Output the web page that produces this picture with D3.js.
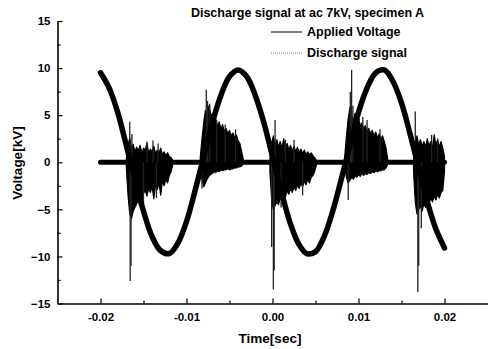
<!DOCTYPE html>
<html><head><meta charset="utf-8">
<script src="https://cdn.jsdelivr.net/npm/d3@7/dist/d3.min.js"></script>
<style>body{margin:0;background:#fff}svg{display:block;font-family:"Liberation Sans",Arial,sans-serif;font-weight:bold}</style>
</head><body>
<script>
// ---- data (time in ms, voltage in kV) ----
const xTickVals = [-20, -10, 0, 10, 20];
const xTickLabels = ["-0.02", "-0.01", "0.00", "0.01", "0.02"];
const yTickVals = [-15, -10, -5, 0, 5, 10, 15];
const xMinorVals = [-15, -5, 5, 15];
const yMinorVals = [-12.5, -7.5, -2.5, 2.5, 7.5, 12.5];

// Applied voltage, sampled every 1 ms from -20 to 20 ms
const vTime = [-20,-19,-18,-17,-16,-15,-14,-13,-12,-11,-10,-9,-8,-7,-6,-5,-4,-3,-2,-1,0,1,2,3,4,5,6,7,8,9,10,11,12,13,14,15,16,17,18,19,20];
const vVolt = [9.5,7.9,5.3,1.8,-1.8,-5.2,-7.9,-9.4,-9.7,-8.6,-6.3,-3.0,0.6,4.2,7.1,9.1,9.8,9.1,7.1,4.2,0.6,-3.0,-6.3,-8.6,-9.7,-9.5,-7.9,-5.2,-1.8,1.8,5.3,7.9,9.5,9.8,8.6,6.3,3.0,-0.6,-4.2,-7.1,-9.1];

// Discharge signal: baseline span and burst envelopes (sampled every 0.2 ms)
const baseSpan = [-20, 20];
const sigStep = 0.2;
const burstStart = [-17.0, -8.4, -0.3, 8.4, 16.4];
const b1Hi = [0.3,1.8,2.6,1.4,1.9,1.1,1.6,1.2,1.8,1.0,1.5,1.3,2.0,1.0,1.4,1.1,1.7,0.9,1.3,1.0,1.5,0.8,1.1,0.7,1.0,0.6,0.5,0.2];
const b1Lo = [-0.5,-3.5,-5.5,-6.0,-5.2,-4.8,-4.4,-4.0,-3.6,-4.2,-3.3,-3.0,-3.6,-2.8,-3.2,-2.6,-3.9,-2.4,-2.9,-2.2,-3.5,-2.0,-2.5,-1.8,-2.2,-1.4,-1.0,-0.3];
const b2Hi = [0.5,2.5,4.2,5.5,5.0,6.0,5.2,4.8,4.0,4.6,3.8,4.3,3.5,4.0,3.2,3.6,3.0,3.4,2.8,3.1,2.6,2.9,2.3,2.0,1.2,0.3];
const b2Lo = [-0.5,-1.8,-2.6,-2.2,-1.8,-1.5,-1.3,-1.2,-1.0,-1.1,-0.9,-1.0,-0.8,-0.9,-0.8,-0.8,-0.7,-0.8,-0.7,-0.7,-0.6,-0.6,-0.5,-0.5,-0.4,-0.2];
const b3Hi = [0.4,2.0,2.8,1.8,2.4,1.6,2.2,1.5,2.5,1.4,2.0,1.3,1.8,1.2,1.7,1.1,1.6,1.0,1.4,0.9,1.3,0.8,1.1,0.8,1.0,0.7,0.5,0.2];
const b3Lo = [-1.0,-4.0,-5.0,-4.6,-4.2,-4.5,-3.8,-4.0,-3.4,-3.7,-3.0,-3.4,-2.8,-3.2,-2.6,-3.0,-2.4,-2.8,-2.2,-2.6,-2.0,-2.4,-1.8,-2.2,-1.6,-1.4,-1.0,-0.3];
const b4Hi = [0.6,2.8,4.6,5.8,5.0,4.4,5.2,4.2,4.8,3.8,4.2,3.5,3.9,3.2,3.6,3.0,3.4,2.8,3.2,2.6,3.0,2.5,2.8,2.2,1.5,0.3];
const b4Lo = [-0.6,-1.6,-2.2,-1.9,-1.6,-1.8,-1.4,-1.6,-1.3,-1.5,-1.2,-1.4,-1.2,-1.3,-1.1,-1.2,-1.0,-1.1,-0.9,-1.0,-0.9,-0.9,-0.8,-0.8,-0.6,-0.2];
const b5Hi = [0.4,2.2,2.8,1.8,2.4,1.7,2.2,1.6,2.5,1.7,2.2,1.5,2.9,1.8,2.4,1.6,2.2,1.5,0.6];
const b5Lo = [-1.0,-4.2,-5.5,-5.0,-4.6,-5.2,-4.4,-4.8,-4.0,-4.4,-3.8,-4.2,-3.6,-4.0,-3.4,-3.8,-3.2,-3.0,-1.0];

// Individual discharge spikes (time ms, peak kV)
const spikeT = [-16.55,-16.45,-16.6,-16.35,-14.6,-13.9,-13.3,-15.0,-13.5,-7.7,-7.55,-7.3,-8.2,-6.5,-5.5,-4.3,0.1,0.2,0.3,-0.1,1.5,2.5,3.5,1.0,9.2,9.05,9.35,8.8,10.5,11.0,12.5,16.9,17.0,16.6,17.3,18.5,19.2];
const spikeV = [-12.6,-11.0,4.3,3.0,2.2,2.3,2.0,-4.5,-3.8,7.7,6.5,6.2,-2.8,4.5,4.0,3.5,-13.5,-11.5,4.5,-9.0,2.4,2.4,-3.5,-4.8,9.8,7.5,6.0,-4.0,4.8,4.5,3.5,-13.8,-11.0,5.4,-7.0,2.9,2.5];

const titleText = "Discharge signal at ac 7kV, specimen A";
const legendLabels = ["Applied Voltage", "Discharge signal"];
const xLabel = "Time[sec]";
const yLabel = "Voltage[kV]";

// ---- drawing ----
const W = 492, H = 349;
const svg = d3.select("body").append("svg").attr("width", W).attr("height", H);
const x = d3.scaleLinear().domain([-25, 25]).range([57.5, 487.5]);
const y = d3.scaleLinear().domain([-15, 15]).range([303.5, 21]);

const bursts = [[b1Hi,b1Lo],[b2Hi,b2Lo],[b3Hi,b3Lo],[b4Hi,b4Lo],[b5Hi,b5Lo]].map((b, k) =>
  b[0].map((hi, i) => ({t: burstStart[k] + i * sigStep, hi: hi, lo: b[1][i]})));

// baseline of discharge signal
svg.append("line")
  .attr("x1", x(baseSpan[0])).attr("x2", x(baseSpan[1]))
  .attr("y1", y(0)).attr("y2", y(0))
  .attr("stroke", "#000").attr("stroke-width", 5).attr("stroke-linecap", "round");

// burst envelopes
const area = d3.area().x(d => x(d.t)).y0(d => y(d.lo)).y1(d => y(d.hi));
svg.selectAll("path.burst").data(bursts).join("path")
  .attr("class", "burst").attr("d", area)
  .attr("fill", "#000").attr("stroke", "#000").attr("stroke-width", 1.2).attr("stroke-linejoin", "round");

// spikes
svg.selectAll("line.spike").data(spikeT.map((t, i) => ({t, v: spikeV[i]}))).join("line")
  .attr("class", "spike")
  .attr("x1", d => x(d.t)).attr("x2", d => x(d.t))
  .attr("y1", y(0)).attr("y2", d => y(d.v))
  .attr("stroke", "#222").attr("stroke-width", 1.3);

// applied voltage
const line = d3.line().x((d, i) => x(vTime[i])).y(d => y(d)).curve(d3.curveCatmullRom);
svg.append("path").datum(vVolt).attr("d", line)
  .attr("fill", "none").attr("stroke", "#000").attr("stroke-width", 5.5).attr("stroke-linecap", "round");

// axes
svg.append("g").attr("transform", `translate(${x(-25)},0)`)
  .call(d3.axisLeft(y).tickValues(yTickVals).tickSizeInner(-5).tickSizeOuter(0).tickPadding(7));
svg.append("g").attr("transform", `translate(${x(-25)},0)`)
  .call(d3.axisLeft(y).tickValues(yMinorVals).tickSizeInner(-3).tickSizeOuter(0).tickFormat(""))
  .select(".domain").remove();
svg.append("g").attr("transform", `translate(0,${y(-15)})`)
  .call(d3.axisBottom(x).tickValues(xTickVals).tickFormat((d, i) => xTickLabels[i])
    .tickSizeInner(-5).tickSizeOuter(0).tickPadding(9));
svg.append("g").attr("transform", `translate(0,${y(-15)})`)
  .call(d3.axisBottom(x).tickValues(xMinorVals).tickSizeInner(-3).tickSizeOuter(0).tickFormat(""))
  .select(".domain").remove();
svg.selectAll(".domain").attr("stroke", "#000").attr("stroke-width", 1.6);
svg.selectAll(".tick line").attr("stroke", "#000").attr("stroke-width", 1.2);
svg.selectAll(".tick text").attr("font-size", 11.5).attr("font-weight", "bold")
  .attr("font-family", '"Liberation Sans",Arial,sans-serif').attr("fill", "#000");

// titles and labels
svg.append("text").attr("x", 307.5).attr("y", 17).attr("text-anchor", "middle")
  .attr("font-size", 12.5).text(titleText);
svg.append("text").attr("x", 270).attr("y", 343).attr("text-anchor", "middle")
  .attr("font-size", 13.5).text(xLabel);
svg.append("text").attr("transform", "translate(22,163) rotate(-90)").attr("text-anchor", "middle")
  .attr("font-size", 13.5).text(yLabel);

// legend
const legY = [32, 53];
svg.append("line").attr("x1", 271).attr("x2", 302).attr("y1", legY[0]).attr("y2", legY[0])
  .attr("stroke", "#000").attr("stroke-width", 1);
svg.append("line").attr("x1", 271).attr("x2", 302).attr("y1", legY[1]).attr("y2", legY[1])
  .attr("stroke", "#777").attr("stroke-width", 1).attr("stroke-dasharray", "1,1");
svg.selectAll("text.leg").data(legendLabels).join("text").attr("class", "leg")
  .attr("x", 307).attr("y", (d, i) => legY[i] + 4).attr("font-size", 12.5).text(d => d);
</script>
</body></html>
